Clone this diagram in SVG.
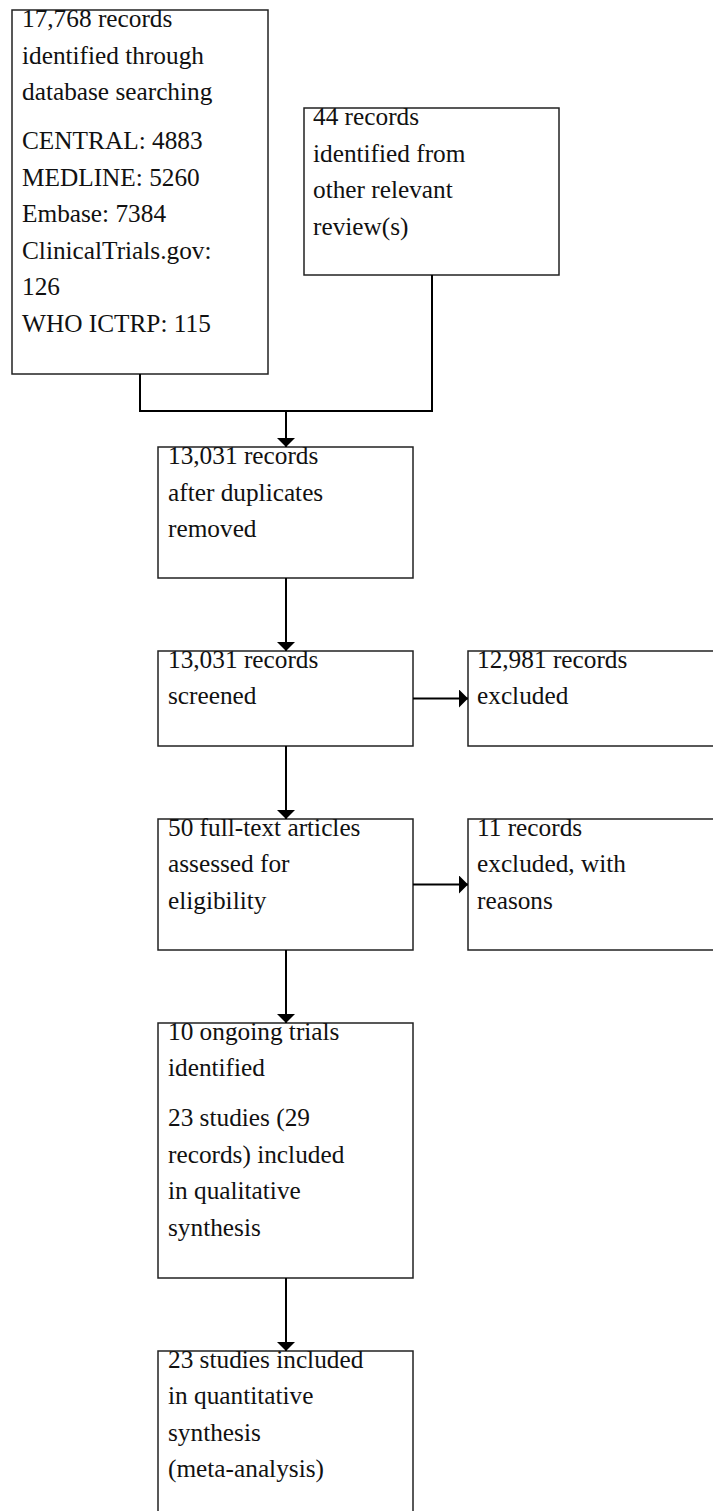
<svg xmlns="http://www.w3.org/2000/svg" width="713" height="1511" viewBox="0 0 713 1511">
<style>
.box{fill:#fff;stroke:#222;stroke-width:1.5}
.t{font-family:'Liberation Serif','Times New Roman',serif;font-size:25.3px;fill:#111}
.c{fill:none;stroke:#000;stroke-width:2}
</style>
<defs>
<marker id="ah" markerUnits="userSpaceOnUse" markerWidth="9" markerHeight="18" refX="9" refY="9" orient="auto" viewBox="0 0 9 18">
<path d="M0,0 L9,9 L0,18 z" fill="#000"/>
</marker>
</defs>
<rect width="713" height="1511" fill="#fff"/>
<g id="n1">
<rect class="box" x="12" y="10" width="256" height="364"/>
<text class="t" x="22" y="27">17,768 records</text>
<text class="t" x="22" y="63.5">identified through</text>
<text class="t" x="22" y="100">database searching</text>
<text class="t" x="22" y="149">CENTRAL: 4883</text>
<text class="t" x="22" y="185.5">MEDLINE: 5260</text>
<text class="t" x="22" y="222">Embase: 7384</text>
<text class="t" x="22" y="258.5">ClinicalTrials.gov:</text>
<text class="t" x="22" y="295">126</text>
<text class="t" x="22" y="331.5">WHO ICTRP: 115</text>
</g>
<g id="n2">
<rect class="box" x="304" y="108" width="255" height="167"/>
<text class="t" x="313" y="125">44 records</text>
<text class="t" x="313" y="161.5">identified from</text>
<text class="t" x="313" y="198">other relevant</text>
<text class="t" x="313" y="234.5">review(s)</text>
</g>
<g id="n3">
<rect class="box" x="158" y="447" width="255" height="131"/>
<text class="t" x="168" y="464">13,031 records</text>
<text class="t" x="168" y="500.5">after duplicates</text>
<text class="t" x="168" y="537">removed</text>
</g>
<g id="n4">
<rect class="box" x="158" y="651" width="255" height="95"/>
<text class="t" x="168" y="667.5">13,031 records</text>
<text class="t" x="168" y="704">screened</text>
</g>
<g id="n4r">
<rect class="box" x="468" y="651" width="260" height="95"/>
<text class="t" x="477" y="667.5">12,981 records</text>
<text class="t" x="477" y="704">excluded</text>
</g>
<g id="n5">
<rect class="box" x="158" y="819" width="255" height="131"/>
<text class="t" x="168" y="835.5">50 full-text articles</text>
<text class="t" x="168" y="872">assessed for</text>
<text class="t" x="168" y="908.5">eligibility</text>
</g>
<g id="n5r">
<rect class="box" x="468" y="819" width="260" height="131"/>
<text class="t" x="477" y="835.5">11 records</text>
<text class="t" x="477" y="872">excluded, with</text>
<text class="t" x="477" y="908.5">reasons</text>
</g>
<g id="n6">
<rect class="box" x="158" y="1023" width="255" height="255"/>
<text class="t" x="168" y="1039.5">10 ongoing trials</text>
<text class="t" x="168" y="1076">identified</text>
<text class="t" x="168" y="1126">23 studies (29</text>
<text class="t" x="168" y="1162.5">records) included</text>
<text class="t" x="168" y="1199">in qualitative</text>
<text class="t" x="168" y="1235.5">synthesis</text>
</g>
<g id="n7">
<rect class="box" x="158" y="1351" width="255" height="180"/>
<text class="t" x="168" y="1367.5">23 studies included</text>
<text class="t" x="168" y="1404">in quantitative</text>
<text class="t" x="168" y="1440.5">synthesis</text>
<text class="t" x="168" y="1477">(meta-analysis)</text>
</g>
<g id="connectors">
<path class="c" d="M140,374 V411 H432 V275"/>
<path class="c" d="M286,411 V447" marker-end="url(#ah)"/>
<path class="c" d="M286,578 V651" marker-end="url(#ah)"/>
<path class="c" d="M286,746 V819" marker-end="url(#ah)"/>
<path class="c" d="M286,950 V1023" marker-end="url(#ah)"/>
<path class="c" d="M286,1278 V1351" marker-end="url(#ah)"/>
<path class="c" d="M413,698.5 H468" marker-end="url(#ah)"/>
<path class="c" d="M413,884.5 H468" marker-end="url(#ah)"/>
</g>
</svg>
